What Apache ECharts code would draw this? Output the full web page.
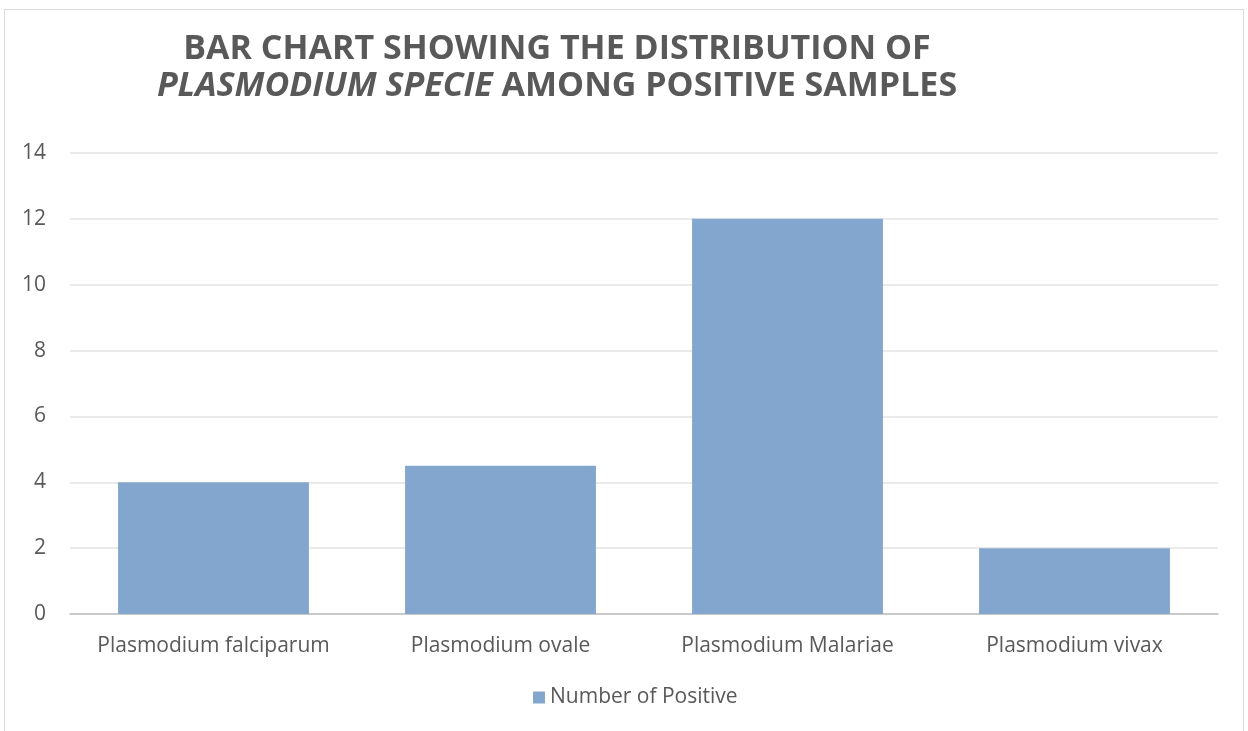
<!DOCTYPE html>
<html><head><meta charset="utf-8">
<script src="https://cdn.jsdelivr.net/npm/echarts@6/dist/echarts.min.js"></script>
<style>html,body{margin:0;padding:0;background:#fff}#c{width:1248px;height:731px}</style>
</head><body><div id="c"></div>
<script>
const categories = ['Plasmodium falciparum','Plasmodium ovale','Plasmodium Malariae','Plasmodium vivax'];
const values = [4, 4.5, 12, 2];
const seriesName = 'Number of Positive';
const yTicks = {min:0, max:14, interval:2};

const chart = echarts.init(document.getElementById('c'));
const font = '"Open Sans", sans-serif';
chart.setOption({
  animation:false,
  graphic:[{type:'rect', shape:{x:4.5,y:9.5,width:1239,height:740}, style:{fill:'none', stroke:'#d9d9d9', lineWidth:1}}],
  title:{
    left:552, top:26, textAlign:'center',
    text:'{b|BAR CHART SHOWING THE DISTRIBUTION OF}\n{i|PLASMODIUM SPECIE}{b| AMONG POSITIVE SAMPLES}',
    textStyle:{rich:{
      b:{fontFamily:font, fontSize:34, fontWeight:'bold', color:'#595959', lineHeight:37},
      i:{fontFamily:font, fontSize:34, fontWeight:'bold', fontStyle:'italic', color:'#595959', lineHeight:37}
    }}
  },
  grid:{left:70, right:30, top:153, bottom:117, containLabel:false},
  legend:{bottom:18, left:528, itemWidth:12, itemHeight:12, icon:'rect', itemGap:8,
    textStyle:{fontFamily:font, fontSize:21, color:'#595959'}, data:[seriesName]},
  xAxis:{type:'category', data:categories,
    axisLine:{lineStyle:{color:'#bfbfbf', width:1.5}}, axisTick:{show:false},
    axisLabel:{fontFamily:font, fontSize:21, color:'#595959', margin:22, interval:0, hideOverlap:false}},
  yAxis:{type:'value', min:yTicks.min, max:yTicks.max, interval:yTicks.interval,
    axisLine:{show:false}, axisTick:{show:false},
    splitLine:{lineStyle:{color:'#e3e3e3', width:1.5}},
    axisLabel:{fontFamily:font, fontSize:21, color:'#595959', margin:24}},
  series:[{type:'bar', name:seriesName, data:values, barCategoryGap:'33.5%',
    itemStyle:{color:'#83a6ce', opacity:1}}]
});
</script></body></html>
